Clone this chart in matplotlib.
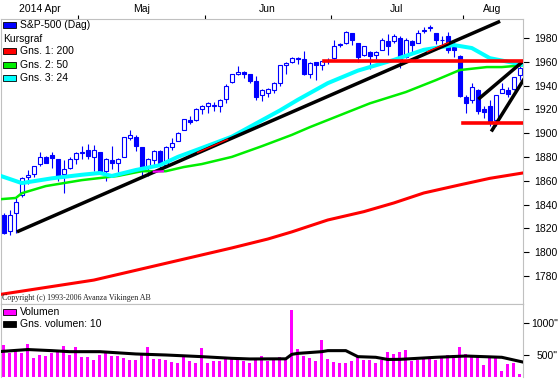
import numpy as np
import matplotlib.pyplot as plt
from matplotlib.patches import Rectangle
from matplotlib.transforms import blended_transform_factory

plt.rcParams['font.family'] = ['Liberation Sans', 'DejaVu Sans']

W, H = 559, 380

# S&P-500 daily candles, 2014-04-11 .. 2014-08-14 (index 0..86)
opens = [1831, 1818, 1833, 1848, 1863, 1866, 1874, 1880, 1882, 1878,
         1866, 1871, 1878, 1883, 1886, 1880, 1884, 1868, 1877, 1875,
         1880, 1896, 1897, 1888, 1871, 1877, 1885, 1873, 1888, 1893,
         1903, 1911, 1911, 1920, 1923, 1923, 1923, 1929, 1943, 1950,
         1951, 1950, 1944, 1932, 1934, 1936, 1942, 1957, 1960, 1963,
         1962, 1950, 1960, 1957, 1960.5, 1963, 1975, 1976, 1984, 1976,
         1966, 1968, 1966, 1970, 1977, 1977, 1980, 1964, 1977, 1976,
         1986, 1988, 1984, 1978, 1982, 1972, 1965, 1930, 1928, 1936,
         1920, 1923, 1911, 1934, 1936, 1937, 1949]
highs = [1833, 1835, 1846, 1863, 1869, 1872, 1884, 1881, 1884, 1878,
         1877, 1880, 1884, 1889, 1891, 1890, 1884, 1879, 1889, 1879,
         1897, 1903, 1898, 1888, 1879, 1886, 1886, 1889, 1896, 1901,
         1912, 1914, 1921, 1924, 1926, 1926, 1929, 1941, 1950, 1956,
         1952, 1950, 1948, 1937, 1938, 1943, 1957, 1960, 1964, 1964,
         1969, 1960, 1960, 1961, 1963, 1978, 1976, 1986, 1984, 1976,
         1973, 1969, 1969, 1980, 1983, 1983, 1982, 1980, 1978, 1987,
         1989, 1991, 1984, 1982, 1985, 1978, 1966, 1932, 1942, 1937,
         1923, 1928, 1932, 1942, 1939, 1947, 1956]
lows = [1815, 1814, 1816, 1846, 1857, 1863, 1872, 1875, 1871, 1860,
        1850, 1870, 1874, 1878, 1878, 1868, 1867, 1860, 1870, 1867,
        1880, 1894, 1885, 1864, 1864, 1872, 1869, 1873, 1886, 1893,
        1903, 1908, 1910, 1916, 1917, 1919, 1918, 1925, 1942, 1949,
        1946, 1942, 1928, 1927, 1930, 1934, 1940, 1950, 1959, 1958,
        1949, 1946, 1945, 1953, 1958, 1962, 1972, 1975, 1974, 1960,
        1965, 1954, 1962, 1970, 1966, 1976, 1955, 1963, 1968, 1976,
        1984, 1986, 1975, 1972, 1967, 1964, 1930, 1917, 1925, 1916,
        1913, 1906, 1906, 1934, 1930, 1936, 1945]
closes = [1816, 1831, 1842, 1862, 1865, 1872, 1880, 1875, 1879, 1863,
          1870, 1878, 1883, 1884.5, 1881, 1886, 1867, 1878, 1875, 1878,
          1897, 1898, 1889, 1871, 1878, 1885, 1873, 1888, 1892, 1900,
          1912, 1909, 1920, 1923, 1925, 1924, 1928, 1940, 1950, 1951,
          1950, 1944, 1930, 1936, 1937, 1942, 1957, 1959, 1963, 1962,
          1950, 1959, 1957, 1961, 1960.2, 1973, 1974, 1985, 1978, 1964,
          1973, 1965, 1968, 1978, 1973, 1982, 1962, 1978, 1974, 1984,
          1987, 1989, 1978, 1978.5, 1970, 1970, 1931, 1925, 1939, 1919,
          1918, 1909, 1932, 1937, 1933, 1947, 1955]
volumes = [656, 536, 594, 536, 672, 458, 500, 484, 536, 562,
           641, 500, 630, 474, 464, 422, 500, 562, 484, 484,
           448, 422, 422, 536, 630, 432, 432, 422, 396, 380,
           464, 406, 380, 604, 380, 406, 406, 432, 448, 422,
           411, 370, 420, 480, 400, 440, 470, 450, 1200, 600,
           484, 448, 406, 734, 432, 391, 370, 370, 406, 484,
           422, 422, 370, 422, 542, 516, 542, 578, 406, 422,
           464, 464, 422, 448, 500, 500, 630, 516, 474, 500,
           344, 484, 448, 250, 360, 380, 203]

# moving averages (day index, value)
ma200_idx = [-0.5, 15, 38, 44, 48, 54, 60, 65, 70, 76, 81, 86.5]
ma200_val = [1764.5, 1776.5, 1803.5, 1811, 1817, 1827, 1834, 1841.3, 1849.7, 1856.5, 1862, 1866.5]
ma50_idx = [-0.5, 2, 3, 7, 13, 19, 23, 27, 30, 33, 38, 43, 48, 51, 57, 61, 67, 72, 76, 80.5, 83, 86.5]
ma50_val = [1844.5, 1845.5, 1849.5, 1855.5, 1860.5, 1864, 1868, 1868, 1871.5, 1874, 1880, 1889,
            1898.5, 1905, 1917, 1925, 1934.5, 1944.5, 1953, 1955.5, 1955.5, 1957]
ma24_idx = [-0.5, 3, 8, 13, 16, 18, 22, 26, 29, 33, 38, 44, 46, 49, 54, 59, 65, 70, 75, 78, 81, 84, 86.5]
ma24_val = [1864, 1858, 1862, 1865, 1866.5, 1864, 1869, 1873, 1880, 1887.5, 1897, 1913.5, 1919,
            1928, 1942, 1952.5, 1961.5, 1970, 1974, 1971.5, 1963, 1960, 1957.5]
volma_idx = [-0.5, 4, 8, 11, 16, 22, 27, 33, 38, 41, 46, 47, 48, 49, 53, 54, 57, 59, 62, 64, 66, 72, 77, 83, 86.5]
volma_val = [555, 585, 568, 552, 552, 516, 500, 474, 448, 438, 440, 440, 510, 525, 552, 568, 568,
             474, 464, 430, 432, 464, 484, 464, 390]

# drawn trend lines
trend_x = [2.45, 82.45]
trend_y = [1817.6, 1993.4]
chan_a_x = [79.3, 86.4]
chan_a_y = [1929.4, 1959.7]
chan_b_x = [81.4, 86.6]
chan_b_y = [1902.6, 1944.6]
resist_x = [53.3, 86.45]
resist_y = [1960.5, 1960.5]
support_x = [76.45, 86.45]
support_y = [1908.2, 1908.2]
# small coloured pieces where lines overlap on the trend line
red_bits = [([32.3, 37.3], [1883.7, 1894.7]), ([70.6, 74.1], [1968.4, 1976.1])]
pink_bits = [([25.0, 26.5], [1867.6, 1867.9])]

month_starts = [13, 34, 55, 77]
month_labels = ['2014 Apr', 'Maj', 'Jun', 'Jul', 'Aug']
price_ticks = list(range(1780, 2000, 20))
vol_ticks = [500, 1000]

BLUE = '#0000ff'
GRAY = '#c0c0c0'
XMIN, XMAX = -0.55, 86.45

fig = plt.figure(figsize=(W / 100, H / 100), dpi=100)
ax = fig.add_axes([0.5 / W, (H - 304) / H, 522 / W, 285 / H])
axv = fig.add_axes([0.5 / W, (H - 377) / H, 522 / W, 73 / H], sharex=ax)

x = np.arange(len(closes))

# candles
ax.vlines(x, lows, highs, color=BLUE, lw=0.8, zorder=2)
for i in x:
    o, c = opens[i], closes[i]
    face = 'white' if c >= o else BLUE
    ax.add_patch(Rectangle((i - 0.34, min(o, c)), 0.68, max(abs(c - o), 0.3),
                           facecolor=face, edgecolor=BLUE, lw=0.8, zorder=2))

ax.plot(ma200_idx, ma200_val, color='#ff0000', lw=2.2, zorder=3)
ax.plot(ma50_idx, ma50_val, color='#00ee00', lw=1.8, zorder=3)
ax.plot(ma24_idx, ma24_val, color='#00ffff', lw=2.9, zorder=3)

ax.plot(trend_x, trend_y, color='black', lw=2.5, zorder=4)
ax.plot(chan_a_x, chan_a_y, color='black', lw=2.5, zorder=4)
ax.plot(chan_b_x, chan_b_y, color='black', lw=2.5, zorder=4)
ax.plot(resist_x, resist_y, color='#ff0000', lw=2.6, zorder=4)
ax.plot(support_x, support_y, color='#ff0000', lw=2.6, zorder=4)
for bx, by in red_bits:
    ax.plot(bx, by, color='#ff0000', lw=1.0, zorder=5)
for bx, by in pink_bits:
    ax.plot(bx, by, color='#ff00ff', lw=1.6, zorder=5)

ax.set_xlim(XMIN, XMAX)
ax.set_ylim(1756.4, 1995.9)
ax.yaxis.tick_right()
ax.set_yticks(price_ticks)
ax.tick_params(axis='y', direction='out', length=4, pad=4.3, labelsize=7.5, width=0.8)
ax.xaxis.tick_top()
ax.set_xticks([m - 0.55 for m in month_starts])
ax.set_xticklabels([])
ax.tick_params(axis='x', direction='out', length=3, width=0.8)
for s in ax.spines.values():
    s.set_color(GRAY)

# month names centred in each month
bounds = [XMIN] + [m - 0.55 for m in month_starts] + [XMAX]
tr = blended_transform_factory(ax.transData, ax.transAxes)
for k, lab in enumerate(month_labels):
    ax.text((bounds[k] + bounds[k + 1]) / 2, 1 + 10 / 285, lab, transform=tr,
            ha='center', va='center', fontsize=7.5)

# volume panel
axv.bar(x, volumes, width=0.55, color='#ff00ff', zorder=2)
axv.plot(volma_idx, volma_val, color='black', lw=2.2, zorder=3)
axv.set_ylim(156, 1297)
axv.yaxis.tick_right()
axv.set_yticks(vol_ticks)
axv.set_yticklabels([f'{v}"' for v in vol_ticks])
axv.tick_params(axis='y', direction='out', length=4, pad=21.6, labelsize=7.5, width=0.8)
for lbl in axv.get_yticklabels():
    lbl.set_horizontalalignment('right')
axv.tick_params(axis='x', bottom=False, top=False, labelbottom=False)
for s in axv.spines.values():
    s.set_color(GRAY)
axv.spines['bottom'].set_visible(False)

# legends and copyright, in pixel coordinates
ov = fig.add_axes([0, 0, 1, 1], zorder=10)
ov.set_xlim(0, W)
ov.set_ylim(H, 0)
ov.axis('off')
ov.patch.set_alpha(0)

legend_rows = [(25, BLUE, 'S&P-500 (Dag)'), (39, None, 'Kursgraf'),
               (51, '#ff0000', 'Gns. 1: 200'), (64.5, '#00ee00', 'Gns. 2: 50'),
               (78, '#00ffff', 'Gns. 3: 24'),
               (312, '#ff00ff', 'Volumen'), (324, 'black', 'Gns. volumen: 10')]
for y, col, txt in legend_rows:
    if col is None:
        ov.text(3, y, txt, fontsize=7.5, va='center', ha='left')
    else:
        ov.add_patch(Rectangle((3, y - 3), 13, 6, facecolor=col, edgecolor='black', lw=0.6))
        ov.text(19.5, y, txt, fontsize=7.5, va='center', ha='left')

ov.text(2, 297.5, 'Copyright (c) 1993-2006 Avanza Vikingen AB', fontsize=5.8,
        family='Liberation Serif', va='center', ha='left', color='#202020')

fig.savefig('out.png', dpi=100)
